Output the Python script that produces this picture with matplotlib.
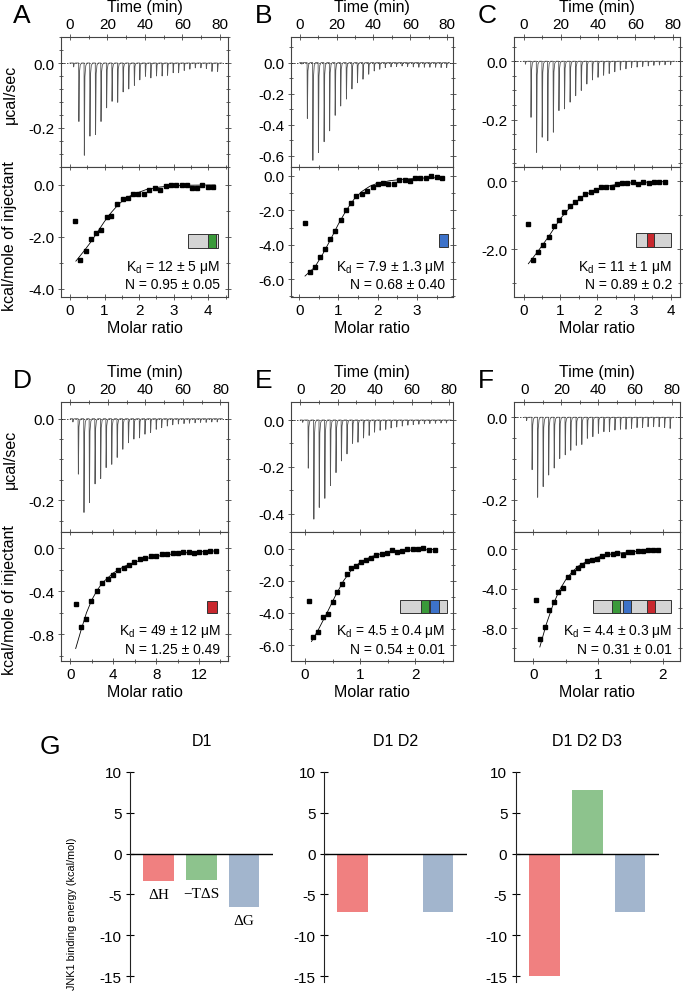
import matplotlib
matplotlib.use("Agg")
import matplotlib.pyplot as plt
from matplotlib.patches import Rectangle
from matplotlib.ticker import MultipleLocator, FuncFormatter

plt.rcParams["font.family"] = ["Liberation Sans", "DejaVu Sans"]
plt.rcParams["mathtext.fontset"] = "custom"
plt.rcParams["mathtext.rm"] = "Liberation Sans"
plt.rcParams["mathtext.it"] = "Liberation Sans:italic"
plt.rcParams["axes.unicode_minus"] = False

W, H = 683, 995

# ---- raw thermograms: injection times (min) and peak heights (ucal/sec) ----
timesA = [1.8, 4.6, 7.5, 10.5, 13.5, 16.4, 19.4, 22.3, 25.3, 28.2, 31.2, 34.2, 37.1, 40.1,
          43.0, 46.0, 49.0, 51.9, 54.9, 57.8, 60.8, 63.8, 66.7, 69.7, 72.6, 75.6, 78.6]
peaksA = [-0.012, -0.18, -0.284, -0.225, -0.22, -0.18, -0.138, -0.118, -0.121, -0.089, -0.08,
          -0.069, -0.052, -0.041, -0.046, -0.04, -0.04, -0.038, -0.03, -0.03, -0.023, -0.019,
          -0.015, -0.015, -0.017, -0.026, -0.026]
timesB = [1.0, 4.0, 7.0, 10.0, 13.1, 16.1, 19.1, 22.1, 25.2, 28.2, 31.2, 34.2, 37.3, 40.3,
          43.3, 46.3, 49.4, 52.4, 55.4, 58.4, 61.5, 64.5, 67.5, 70.5, 73.6, 76.6, 79.6]
peaksB = [-0.01, -0.36, -0.63, -0.58, -0.51, -0.44, -0.34, -0.28, -0.235, -0.17, -0.13, -0.107,
          -0.075, -0.054, -0.043, -0.032, -0.028, -0.025, -0.022, -0.025, -0.028, -0.03, -0.03,
          -0.03, -0.03, -0.032, -0.032]
timesC = [0.8, 3.8, 6.8, 9.8, 12.8, 15.8, 18.8, 21.8, 24.8, 27.8, 30.8, 33.8, 36.8, 39.8,
          42.8, 45.8, 48.8, 51.8, 54.8, 57.8, 60.8, 63.8, 66.8, 69.8, 72.8, 75.8, 78.8]
peaksC = [-0.01, -0.192, -0.312, -0.26, -0.272, -0.243, -0.169, -0.163, -0.14, -0.118, -0.1,
          -0.078, -0.064, -0.055, -0.048, -0.042, -0.036, -0.03, -0.026, -0.022, -0.02, -0.018,
          -0.016, -0.014, -0.013, -0.012, -0.012]
timesD = [1.2, 4.1, 7.1, 10.0, 13.0, 16.0, 18.9, 21.9, 24.8, 27.8, 30.8, 33.7, 36.7, 39.6,
          42.6, 45.6, 48.5, 51.5, 54.4, 57.4, 60.4, 63.3, 66.3, 69.2, 72.2, 75.2, 78.1]
peaksD = [-0.008, -0.136, -0.23, -0.206, -0.16, -0.147, -0.12, -0.112, -0.095, -0.075, -0.059,
          -0.05, -0.047, -0.038, -0.034, -0.026, -0.022, -0.018, -0.015, -0.013, -0.012, -0.011,
          -0.01, -0.009, -0.009, -0.008, -0.008]
timesE = [1.1, 4.1, 7.1, 10.0, 13.0, 16.0, 19.0, 21.9, 24.9, 27.9, 30.8, 33.8, 36.8, 39.7,
          42.7, 45.7, 48.6, 51.6, 54.6, 57.6, 60.5, 63.5, 66.5, 69.4, 72.4, 75.4, 78.3]
peaksE = [-0.01, -0.206, -0.424, -0.374, -0.335, -0.28, -0.225, -0.175, -0.145, -0.10, -0.095,
          -0.077, -0.066, -0.052, -0.044, -0.04, -0.034, -0.03, -0.026, -0.022, -0.02, -0.018,
          -0.016, -0.015, -0.014, -0.013, -0.013]
timesF = [1.0, 4.0, 7.0, 10.0, 13.0, 16.0, 19.0, 22.0, 25.0, 28.0, 31.0, 34.0, 37.0, 40.0,
          43.0, 46.0, 49.0, 52.0, 55.0, 58.0, 61.0, 64.0, 67.0, 70.0, 73.0, 76.0, 79.0]
peaksF = [-0.008, -0.127, -0.194, -0.168, -0.14, -0.123, -0.10, -0.091, -0.08, -0.068, -0.066,
          -0.051, -0.047, -0.039, -0.035, -0.035, -0.031, -0.029, -0.029, -0.027, -0.025, -0.025,
          -0.023, -0.023, -0.023, -0.025, -0.027]

# ---- integrated heats: molar ratio vs kcal/mole of injectant ----
ratioA = [0.15, 0.29, 0.45, 0.60, 0.75, 0.90, 1.06, 1.20, 1.37, 1.52, 1.68, 1.83, 1.98, 2.14,
          2.29, 2.46, 2.61, 2.77, 2.92, 3.07, 3.23, 3.37, 3.53, 3.68, 3.83, 3.99, 4.14]
heatA = [-1.37, -2.87, -2.53, -2.06, -1.85, -1.72, -1.22, -1.18, -0.73, -0.55, -0.51, -0.35,
         -0.33, -0.33, -0.18, -0.12, -0.18, -0.05, -0.01, -0.01, 0.0, 0.0, -0.10, -0.12, 0.0,
         -0.06, -0.06]
ratioB = [0.145, 0.27, 0.40, 0.53, 0.655, 0.79, 0.92, 1.055, 1.19, 1.33, 1.46, 1.60, 1.73, 1.87,
          2.01, 2.135, 2.27, 2.41, 2.55, 2.69, 2.82, 2.95, 3.09, 3.22, 3.35, 3.50, 3.63]
heatB = [-2.72, -5.58, -5.29, -4.71, -4.26, -3.64, -3.19, -2.57, -2.0, -1.58, -1.19, -1.07,
         -0.86, -0.64, -0.45, -0.39, -0.45, -0.45, -0.25, -0.23, -0.29, -0.14, -0.12, -0.12,
         0.0, -0.04, -0.10]
ratioC = [0.13, 0.25, 0.40, 0.54, 0.68, 0.82, 0.96, 1.11, 1.25, 1.39, 1.53, 1.68, 1.83, 1.96,
          2.11, 2.24, 2.39, 2.53, 2.67, 2.82, 2.96, 3.10, 3.24, 3.40, 3.54, 3.69, 3.84]
heatC = [-1.27, -2.33, -2.08, -1.87, -1.64, -1.32, -1.14, -0.90, -0.74, -0.61, -0.48, -0.38,
         -0.31, -0.27, -0.18, -0.16, -0.16, -0.07, -0.05, -0.06, -0.03, -0.08, -0.03, -0.04,
         -0.02, -0.01, -0.01]
ratioD = [0.53, 0.97, 1.50, 1.97, 2.47, 2.97, 3.47, 3.97, 4.47, 4.97, 5.47, 5.97, 6.47, 7.0,
          7.5, 8.0, 8.53, 9.03, 9.53, 10.0, 10.5, 11.03, 11.53, 12.03, 12.53, 13.03, 13.62]
heatD = [-0.52, -0.73, -0.66, -0.49, -0.40, -0.32, -0.29, -0.25, -0.20, -0.18, -0.16, -0.13,
         -0.10, -0.09, -0.077, -0.071, -0.058, -0.055, -0.049, -0.043, -0.040, -0.034, -0.049,
         -0.040, -0.031, -0.028, -0.022]
ratioE = [0.066, 0.156, 0.24, 0.32, 0.41, 0.50, 0.58, 0.665, 0.755, 0.84, 0.92, 1.01, 1.10,
          1.20, 1.29, 1.39, 1.49, 1.58, 1.67, 1.76, 1.85, 1.95, 2.04, 2.14, 2.24, 2.36]
heatE = [-3.25, -5.47, -5.16, -4.23, -4.06, -3.30, -2.72, -2.18, -1.59, -1.20, -1.08, -0.83,
         -0.70, -0.56, -0.41, -0.31, -0.25, -0.12, -0.19, -0.17, -0.04, -0.04, -0.04, 0.04,
         -0.09, -0.09]
ratioF = [0.04, 0.107, 0.18, 0.245, 0.32, 0.38, 0.46, 0.53, 0.61, 0.685, 0.76, 0.83, 0.91,
          0.99, 1.07, 1.145, 1.23, 1.30, 1.38, 1.46, 1.53, 1.62, 1.69, 1.77, 1.85, 1.93]
heatF = [-5.11, -9.07, -7.83, -6.15, -5.37, -4.36, -3.96, -2.79, -2.35, -1.95, -1.61, -1.18,
         -1.08, -1.01, -0.71, -0.50, -0.47, -0.43, -0.57, -0.33, -0.33, -0.23, -0.17, -0.07,
         -0.10, -0.10]

# ---- fitted curves ----
fitxA = [0.17, 0.4, 0.6, 0.8, 1.0, 1.2, 1.4, 1.6, 1.8, 2.2, 2.6, 3.0, 3.5, 4.2]
fityA = [-2.93, -2.55, -2.2, -1.8, -1.4, -1.05, -0.75, -0.53, -0.38, -0.18, -0.08, -0.03, -0.01, 0.0]
fitxB = [0.15, 0.4, 0.6, 0.8, 1.0, 1.2, 1.4, 1.6, 1.8, 2.0, 2.3, 2.7, 3.2, 3.65]
fityB = [-5.82, -5.3, -4.55, -3.7, -2.8, -2.0, -1.35, -0.9, -0.6, -0.42, -0.28, -0.18, -0.12, -0.1]
fitxC = [0.13, 0.4, 0.7, 1.0, 1.3, 1.6, 1.9, 2.2, 2.6, 3.0, 3.5, 3.9]
fityC = [-2.43, -2.05, -1.6, -1.1, -0.72, -0.45, -0.27, -0.16, -0.08, -0.04, -0.02, -0.01]
fitxD = [0.5, 1.0, 1.5, 2.0, 2.5, 3.0, 4.0, 5.0, 6.0, 7.5, 9.0, 11.0, 13.6]
fityD = [-0.93, -0.76, -0.6, -0.48, -0.39, -0.32, -0.23, -0.17, -0.13, -0.085, -0.06, -0.04, -0.025]
fitxE = [0.12, 0.25, 0.4, 0.55, 0.7, 0.85, 1.0, 1.2, 1.4, 1.6, 1.9, 2.36]
fityE = [-5.78, -5.0, -4.0, -2.95, -2.0, -1.3, -0.85, -0.5, -0.3, -0.18, -0.1, -0.06]
fitxF = [0.1, 0.2, 0.3, 0.4, 0.5, 0.6, 0.7, 0.85, 1.0, 1.2, 1.45, 1.7, 1.93]
fityF = [-9.9, -7.6, -5.7, -4.2, -3.1, -2.3, -1.7, -1.15, -0.8, -0.5, -0.3, -0.18, -0.12]

kd_labels = ["K$_{\\rm d}$ = 12 ± 5 μM", "K$_{\\rm d}$ = 7.9 ± 1.3 μM", "K$_{\\rm d}$ = 11 ± 1 μM",
             "K$_{\\rm d}$ = 49 ± 12 μM", "K$_{\\rm d}$ = 4.5 ± 0.4 μM", "K$_{\\rm d}$ = 4.4 ± 0.3 μM"]
n_labels = ["N = 0.95 ± 0.05", "N = 0.68 ± 0.40", "N = 0.89 ± 0.2",
            "N = 1.25 ± 0.49", "N = 0.54 ± 0.01", "N = 0.31 ± 0.01"]
panel_letters = ["A", "B", "C", "D", "E", "F"]

# ---- G: binding energetics (kcal/mol) ----
terms = ["ΔH", "−TΔS", "ΔG"]
constructs = ["D1", "D1 D2", "D1 D2 D3"]
energyD1 = [-3.41, -3.21, -6.59]
energyD1D2 = [-7.11, 0.0, -7.2]
energyD1D2D3 = [-15.0, 7.8, -7.2]

GREEN, BLUE, RED = "#3a9a3a", "#3d72c9", "#c8282e"
BAR_COLORS = ["#f08080", "#8dc38d", "#a2b5cd"]
SPINE = "#444444"

fig = plt.figure(figsize=(W / 100, H / 100), dpi=100)


def px_axes(l, t, r, b):
    return fig.add_axes([l / W, 1 - b / H, (r - l) / W, (b - t) / H])


def px_text(x, y, s, **kw):
    fig.text(x / W, 1 - y / H, s, **kw)


def px_rect(l, t, r, b, color, edge="#333333"):
    fig.add_artist(Rectangle((l / W, 1 - b / H), (r - l) / W, (b - t) / H,
                             transform=fig.transFigure, facecolor=color,
                             edgecolor=edge, linewidth=0.7))


def fmt1(v, p):
    return f"{v + 0.0:.1f}"


def fmtg(v, p):
    return f"{v + 0.0:g}"


def style(ax):
    for s in ax.spines.values():
        s.set_color(SPINE)
        s.set_linewidth(0.8)
    ax.tick_params(which="both", direction="inout", color=SPINE, width=0.6, labelsize=11,
                   pad=2)
    ax.tick_params(which="major", length=5)
    ax.tick_params(which="minor", length=3)


def trace(times, peaks, t_end=81.0):
    # sharp spike down at each injection, quick return to baseline
    t, y = [0.0], [0.0]
    for t0, d in zip(times, peaks):
        t += [t0, t0 + 0.15, t0 + 0.45, t0 + 0.9, t0 + 1.6]
        y += [0.0, d, 0.15 * d, 0.03 * d, 0.0]
    t.append(t_end)
    y.append(0.0)
    return t, y


def thermo(ax, times, peaks, xlim, ylim, yminor):
    ax.axhline(0, color="black", lw=0.5, ls=(0, (2, 2)))
    t, y = trace(times, peaks)
    ax.plot(t, y, color="#555555", lw=0.6)
    ax.set_xlim(*xlim)
    ax.set_ylim(*ylim)
    ax.xaxis.set_label_position("top")
    ax.set_xlabel("Time (min)", fontsize=11.5, labelpad=4)
    ax.xaxis.set_major_locator(MultipleLocator(20))
    ax.xaxis.set_minor_locator(MultipleLocator(10))
    ax.yaxis.set_major_locator(MultipleLocator(0.2))
    ax.yaxis.set_minor_locator(MultipleLocator(yminor))
    ax.yaxis.set_major_formatter(FuncFormatter(fmt1))
    style(ax)
    ax.tick_params(which="both", top=True, bottom=False, left=True, right=True,
                   labeltop=True, labelbottom=False)


def isotherm(ax, rx, hy, fx, fy, xlim, ylim, xmaj, xmin, ymaj, ymin):
    ax.plot(fx, fy, color="black", lw=0.6)
    ax.plot(rx, hy, "s", color="black", ms=3.0)
    ax.set_xlim(*xlim)
    ax.set_ylim(*ylim)
    ax.set_xlabel("Molar ratio", fontsize=11.5, labelpad=2)
    ax.xaxis.set_major_locator(MultipleLocator(xmaj))
    ax.xaxis.set_minor_locator(MultipleLocator(xmin))
    ax.yaxis.set_major_locator(MultipleLocator(ymaj))
    ax.yaxis.set_minor_locator(MultipleLocator(ymin))
    ax.xaxis.set_major_formatter(FuncFormatter(fmtg))
    ax.yaxis.set_major_formatter(FuncFormatter(fmt1))
    style(ax)
    ax.tick_params(which="both", top=True, bottom=True, left=True, right=True)


# layout in figure pixels
cols = [(61, 228), (290.5, 453), (514, 680)]
rows = [(38, 168, 298), (403, 533, 662)]

thermo_data = [
    (timesA, peaksA, (-4.8, 84.3), (-0.32, 0.08), 0.04),
    (timesB, peaksB, (-5.0, 83.2), (-0.673, 0.165), 0.1),
    (timesC, peaksC, (-5.2, 84.0), (-0.362, 0.083), 0.05),
    (timesD, peaksD, (-5.0, 84.0), (-0.278, 0.041), 0.05),
    (timesE, peaksE, (-5.3, 82.0), (-0.479, 0.077), 0.1),
    (timesF, peaksF, (-5.7, 84.5), (-0.278, 0.037), 0.05),
]
iso_data = [
    (ratioA, heatA, fitxA, fityA, (-0.26, 4.57), (-4.31, 0.69), 1, 0.5, 2, 1),
    (ratioB, heatB, fitxB, fityB, (-0.22, 3.92), (-7.04, 0.52), 1, 0.5, 2, 1),
    (ratioC, heatC, fitxC, fityC, (-0.26, 4.25), (-3.41, 0.42), 1, 0.5, 2, 1),
    (ratioD, heatD, fitxD, fityD, (-0.87, 14.7), (-1.046, 0.15), 4, 2, 0.4, 0.2),
    (ratioE, heatE, fitxE, fityE, (-0.26, 2.68), (-6.99, 1.03), 1, 0.5, 2, 1),
    (ratioF, heatF, fitxF, fityF, (-0.30, 2.27), (-11.32, 1.74), 1, 0.5, 4, 2),
]

for i in range(6):
    r, c = divmod(i, 3)
    l, rr = cols[c]
    top, mid, bot = rows[r]
    ax_t = px_axes(l, top, rr, mid)
    thermo(ax_t, *thermo_data[i])
    ax_b = px_axes(l, mid, rr, bot)
    isotherm(ax_b, *iso_data[i])
    px_text(rr - 8, mid + 99, kd_labels[i], fontsize=10, ha="right", va="center")
    px_text(rr - 8, mid + 117, n_labels[i], fontsize=10, ha="right", va="center")
    px_text(l - 48 + (c > 0) * 12, top - 22, panel_letters[i], fontsize=19, ha="left",
            va="center")
    if c == 0:
        px_text(10, (top + mid) / 2 - 9, "μcal/sec", fontsize=11.5, rotation=90,
                ha="center", va="center")
        px_text(10, (mid + bot) / 2 + 3, "kcal/mole of injectant", fontsize=11.5,
                rotation=90, ha="center", va="center")

# construct icons (domain cartoons)
px_rect(188, 235, 218, 249, "#d4d4d4")
px_rect(208, 235, 216, 249, GREEN)
px_rect(439, 235, 448, 248, BLUE)
px_rect(636, 234, 671, 248, "#d4d4d4")
px_rect(647, 234, 653.5, 248, RED)
px_rect(207, 602, 217, 614, RED)
px_rect(400, 601, 447, 614, "#d4d4d4")
px_rect(421, 601, 428.5, 614, GREEN)
px_rect(430, 601, 438.5, 614, BLUE)
px_rect(593, 601, 671, 614, "#d4d4d4")
px_rect(612, 601, 619.5, 614, GREEN)
px_rect(623, 601, 630.5, 614, BLUE)
px_rect(647, 601, 654.5, 614, RED)

# ---- panel G ----
g_cols = [(130, 273), (324, 467), (515.7, 659)]
g_sets = [energyD1, energyD1D2, energyD1D2D3]
for k, (gl, gr) in enumerate(g_cols):
    ax = px_axes(gl, 772.7, gr, 983)
    ax.bar(range(3), g_sets[k], width=0.72, color=BAR_COLORS)
    ax.axhline(0, color="black", lw=1.0)
    ax.set_xlim(-0.67, 2.68)
    ax.set_ylim(-15.7, 10)
    ax.yaxis.set_major_locator(MultipleLocator(5))
    ax.yaxis.set_major_formatter(FuncFormatter(fmtg))
    ax.set_xticks([])
    for s in ["top", "right", "bottom"]:
        ax.spines[s].set_visible(False)
    ax.spines["left"].set_color("#222222")
    ax.spines["left"].set_linewidth(0.8)
    ax.tick_params(axis="y", direction="inout", length=6, width=0.8, labelsize=11, pad=3)
    px_text((gl + gr) / 2, 741.7, constructs[k], fontsize=11.5, ha="center", va="center")
    if k == 0:
        for j, term in enumerate(terms):
            ax.annotate(term, (j, g_sets[k][j]), xytext=(0, -5), textcoords="offset points",
                        ha="center", va="top", fontsize=11,
                        family=["Liberation Serif", "DejaVu Serif"])

px_text(50, 747, "G", fontsize=19, ha="center", va="center")
px_text(72, 914, "JNK1 binding energy (kcal/mol)", fontsize=7.8, rotation=90,
        ha="center", va="center")

fig.savefig("out.png", dpi=100)
